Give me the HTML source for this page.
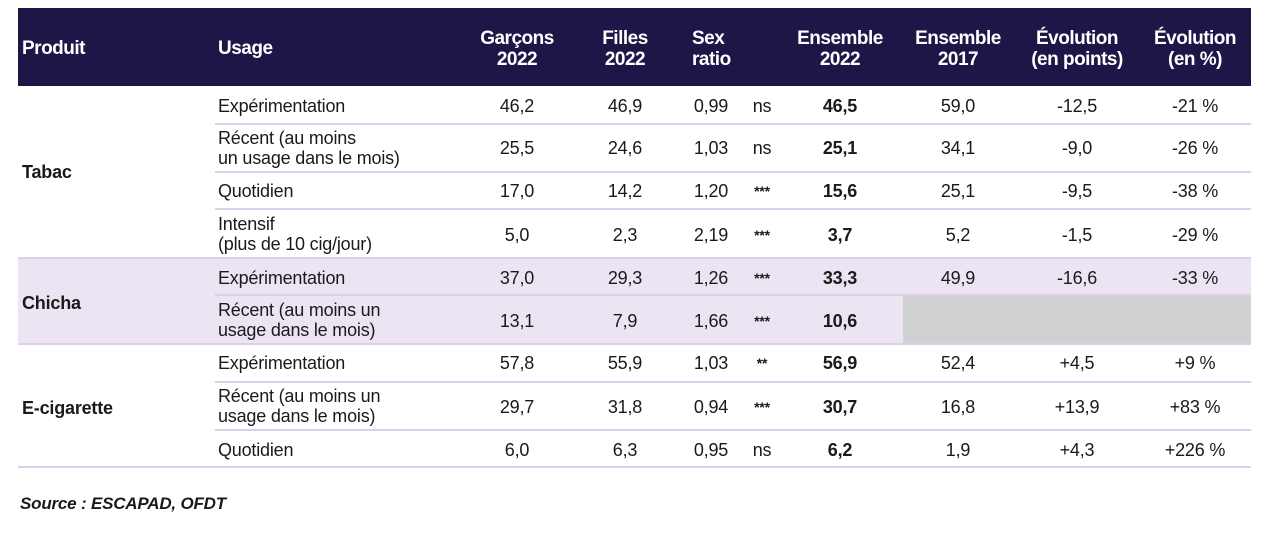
<!DOCTYPE html>
<html><head><meta charset="utf-8"><style>
body{margin:0;width:1280px;height:541px;background:#fff;position:relative;font-family:"Liberation Sans",sans-serif;color:#1a1a1a;overflow:hidden}
.a{position:absolute;white-space:nowrap}
.hd{position:absolute;left:18px;top:8px;width:1233px;height:78px;background:#1d1748}
.h{position:absolute;color:#fff;font-weight:bold;font-size:19px;line-height:21px;text-align:center;letter-spacing:-0.5px}
.c{position:absolute;font-size:18px;line-height:20px;text-align:center;width:100px;margin-left:-50px;letter-spacing:-0.2px}
.l{position:absolute;font-size:18px;line-height:20px;letter-spacing:-0.2px}
.ln{position:absolute;height:2px;background:#dcd0e8}
b{font-weight:bold}
.s{font-size:14px;vertical-align:3px;font-weight:bold}
</style></head><body>
<div class="hd"></div>
<div class="h" style="left:22px;top:38px;text-align:left">Produit</div>
<div class="h" style="left:218px;top:38px;text-align:left">Usage</div>
<div class="h" style="left:467px;top:28px;width:100px">Garçons<br>2022</div>
<div class="h" style="left:575px;top:28px;width:100px">Filles<br>2022</div>
<div class="h" style="left:692px;top:28px;text-align:left">Sex<br>ratio</div>
<div class="h" style="left:785px;top:28px;width:110px">Ensemble<br>2022</div>
<div class="h" style="left:903px;top:28px;width:110px">Ensemble<br>2017</div>
<div class="h" style="left:1017px;top:28px;width:120px">Évolution<br>(en points)</div>
<div class="h" style="left:1140px;top:28px;width:110px">Évolution<br>(en %)</div>

<div class="a" style="left:18px;top:258px;width:1233px;height:86px;background:#ece4f3"></div>
<div class="a" style="left:903px;top:296px;width:348px;height:48px;background:#d0d1d3"></div>

<div class="ln" style="left:215px;width:1036px;top:123px"></div>
<div class="ln" style="left:215px;width:1036px;top:171px"></div>
<div class="ln" style="left:215px;width:1036px;top:208px"></div>
<div class="ln" style="left:18px;width:1233px;top:257px"></div>
<div class="ln" style="left:215px;width:1036px;top:294px"></div>
<div class="ln" style="left:18px;width:1233px;top:343px"></div>
<div class="ln" style="left:215px;width:1036px;top:381px"></div>
<div class="ln" style="left:215px;width:1036px;top:429px"></div>
<div class="ln" style="left:18px;width:1233px;top:466px"></div>

<div class="l" style="left:22px;top:162px"><b>Tabac</b></div>
<div class="l" style="left:22px;top:293px"><b>Chicha</b></div>
<div class="l" style="left:22px;top:398px"><b>E-cigarette</b></div>

<div class="l" style="left:218px;top:96px">Expérimentation</div>
<div class="l" style="left:218px;top:128px">Récent (au moins<br>un usage dans le mois)</div>
<div class="l" style="left:218px;top:181px">Quotidien</div>
<div class="l" style="left:218px;top:214px">Intensif<br>(plus de 10 cig/jour)</div>
<div class="l" style="left:218px;top:268px">Expérimentation</div>
<div class="l" style="left:218px;top:300px">Récent (au moins un<br>usage dans le mois)</div>
<div class="l" style="left:218px;top:353px">Expérimentation</div>
<div class="l" style="left:218px;top:386px">Récent (au moins un<br>usage dans le mois)</div>
<div class="l" style="left:218px;top:440px">Quotidien</div>

<div class="c" style="left:517px;top:96px">46,2</div><div class="c" style="left:625px;top:96px">46,9</div><div class="c" style="left:711px;top:96px">0,99</div><div class="c" style="left:762px;top:96px">ns</div><div class="c" style="left:840px;top:96px"><b>46,5</b></div><div class="c" style="left:958px;top:96px">59,0</div><div class="c" style="left:1077px;top:96px">-12,5</div><div class="c" style="left:1195px;top:96px">-21 %</div>
<div class="c" style="left:517px;top:138px">25,5</div><div class="c" style="left:625px;top:138px">24,6</div><div class="c" style="left:711px;top:138px">1,03</div><div class="c" style="left:762px;top:138px">ns</div><div class="c" style="left:840px;top:138px"><b>25,1</b></div><div class="c" style="left:958px;top:138px">34,1</div><div class="c" style="left:1077px;top:138px">-9,0</div><div class="c" style="left:1195px;top:138px">-26 %</div>
<div class="c" style="left:517px;top:181px">17,0</div><div class="c" style="left:625px;top:181px">14,2</div><div class="c" style="left:711px;top:181px">1,20</div><div class="c" style="left:762px;top:181px"><span class="s">***</span></div><div class="c" style="left:840px;top:181px"><b>15,6</b></div><div class="c" style="left:958px;top:181px">25,1</div><div class="c" style="left:1077px;top:181px">-9,5</div><div class="c" style="left:1195px;top:181px">-38 %</div>
<div class="c" style="left:517px;top:225px">5,0</div><div class="c" style="left:625px;top:225px">2,3</div><div class="c" style="left:711px;top:225px">2,19</div><div class="c" style="left:762px;top:225px"><span class="s">***</span></div><div class="c" style="left:840px;top:225px"><b>3,7</b></div><div class="c" style="left:958px;top:225px">5,2</div><div class="c" style="left:1077px;top:225px">-1,5</div><div class="c" style="left:1195px;top:225px">-29 %</div>
<div class="c" style="left:517px;top:268px">37,0</div><div class="c" style="left:625px;top:268px">29,3</div><div class="c" style="left:711px;top:268px">1,26</div><div class="c" style="left:762px;top:268px"><span class="s">***</span></div><div class="c" style="left:840px;top:268px"><b>33,3</b></div><div class="c" style="left:958px;top:268px">49,9</div><div class="c" style="left:1077px;top:268px">-16,6</div><div class="c" style="left:1195px;top:268px">-33 %</div>
<div class="c" style="left:517px;top:311px">13,1</div><div class="c" style="left:625px;top:311px">7,9</div><div class="c" style="left:711px;top:311px">1,66</div><div class="c" style="left:762px;top:311px"><span class="s">***</span></div><div class="c" style="left:840px;top:311px"><b>10,6</b></div>
<div class="c" style="left:517px;top:353px">57,8</div><div class="c" style="left:625px;top:353px">55,9</div><div class="c" style="left:711px;top:353px">1,03</div><div class="c" style="left:762px;top:353px"><span class="s">**</span></div><div class="c" style="left:840px;top:353px"><b>56,9</b></div><div class="c" style="left:958px;top:353px">52,4</div><div class="c" style="left:1077px;top:353px">+4,5</div><div class="c" style="left:1195px;top:353px">+9 %</div>
<div class="c" style="left:517px;top:397px">29,7</div><div class="c" style="left:625px;top:397px">31,8</div><div class="c" style="left:711px;top:397px">0,94</div><div class="c" style="left:762px;top:397px"><span class="s">***</span></div><div class="c" style="left:840px;top:397px"><b>30,7</b></div><div class="c" style="left:958px;top:397px">16,8</div><div class="c" style="left:1077px;top:397px">+13,9</div><div class="c" style="left:1195px;top:397px">+83 %</div>
<div class="c" style="left:517px;top:440px">6,0</div><div class="c" style="left:625px;top:440px">6,3</div><div class="c" style="left:711px;top:440px">0,95</div><div class="c" style="left:762px;top:440px">ns</div><div class="c" style="left:840px;top:440px"><b>6,2</b></div><div class="c" style="left:958px;top:440px">1,9</div><div class="c" style="left:1077px;top:440px">+4,3</div><div class="c" style="left:1195px;top:440px">+226 %</div>

<div class="l" style="left:20px;top:494px;font-weight:bold;font-style:italic;font-size:17px">Source : ESCAPAD, OFDT</div>
</body></html>
